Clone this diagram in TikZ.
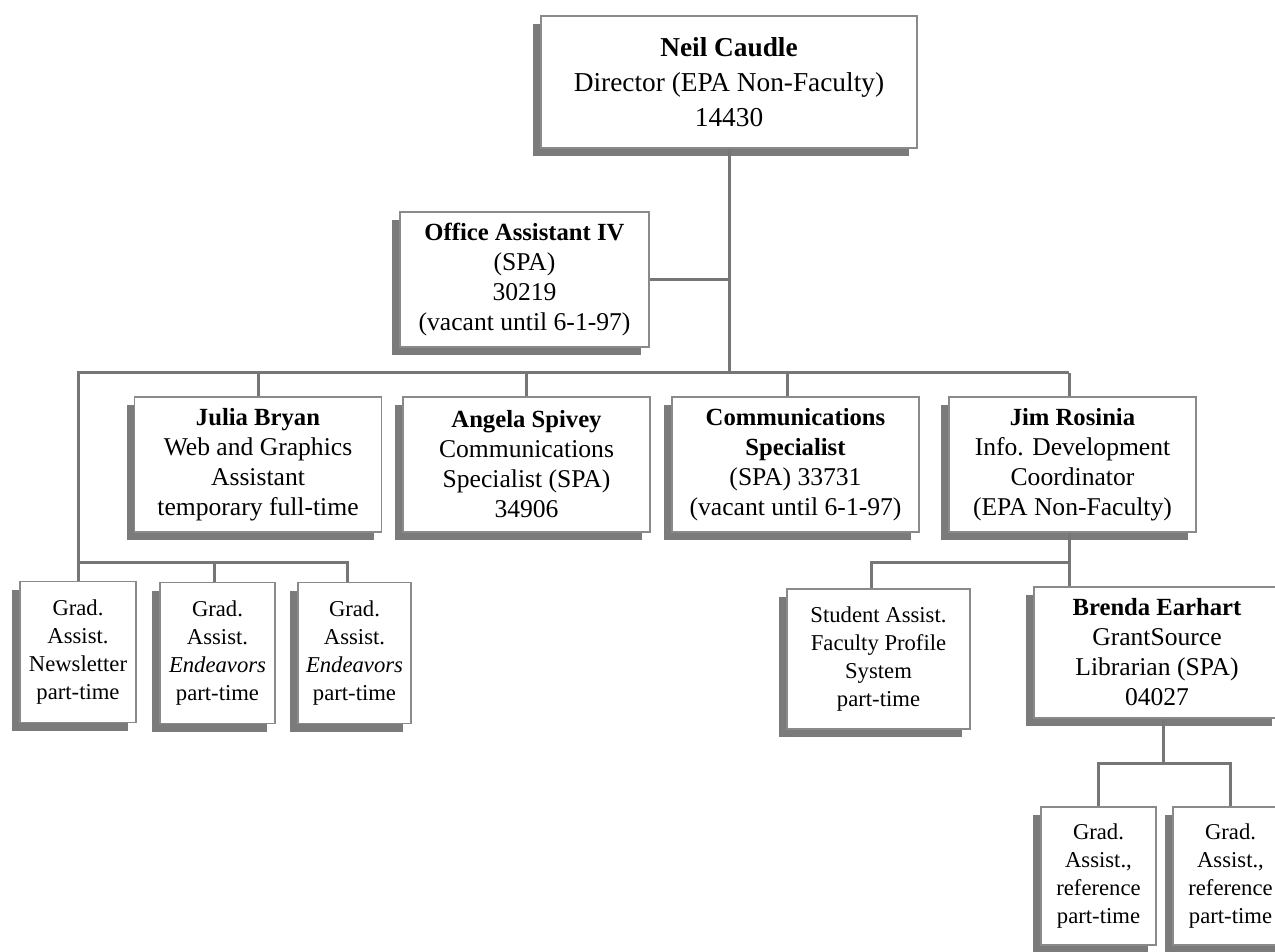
\documentclass[tikz,border=0pt]{standalone}
\usepackage{fontspec}
\setmainfont{Liberation Serif}
\usetikzlibrary{shadows}
\definecolor{linec}{HTML}{767676}
\definecolor{shadc}{HTML}{7B7B7B}
\definecolor{bordc}{HTML}{8A8A8A}
\newcommand{\nm}[1]{{\fontsize{18.5}{22.5}\selectfont\bfseries #1}}
\tikzset{
  box/.style={draw=bordc, line width=1.2pt, fill=white, rectangle, align=center, inner sep=0pt,
    drop shadow={shadow xshift=-6pt, shadow yshift=-6pt, fill=shadc, opacity=1}},
  conn/.style={draw=linec, line width=2.25pt},
  topfont/.style={font=\fontsize{20.5}{26}\selectfont},
  midfont/.style={font=\fontsize{19.2}{22.5}\selectfont},
  smallfont/.style={font=\fontsize{17}{21}\selectfont},
  midbox/.style={box, midfont, minimum width=185.25pt, minimum height=101.25pt},
  gradbox/.style={box, smallfont, minimum width=87pt, minimum height=105.75pt},
  refbox/.style={box, smallfont, minimum width=86.25pt, minimum height=103.5pt},
}
\begin{document}
\begin{tikzpicture}[x=0.75pt,y=-0.75pt]
\useasboundingbox (0,0) rectangle (1275,952);

\node[box, topfont, minimum width=282pt, minimum height=99pt] (neil) at (729,82)
  {\textbf{Neil Caudle}\\Director (EPA Non-Faculty)\\14430};
\node[box, midfont, minimum width=186.75pt, minimum height=101.25pt] (office) at (524.5,279.5)
  {\nm{Office Assistant IV}\\(SPA)\\30219\\(vacant until 6-1-97)};

\node[midbox] (julia) at (258,464.5)
  {\nm{Julia Bryan}\\Web and Graphics\\Assistant\\temporary full-time};
\node[midbox] (angela) at (526.5,464.5)
  {\nm{Angela Spivey}\\Communications\\Specialist (SPA)\\34906};
\node[midbox] (comm) at (795.5,464.5)
  {\nm{Communications}\\\nm{Specialist}\\(SPA) 33731\\(vacant until 6-1-97)};
\node[midbox] (jim) at (1072.5,464.5)
  {\nm{Jim Rosinia}\\Info. Development\\Coordinator\\(EPA Non-Faculty)};

\node[gradbox] (g1) at (78,652)
  {Grad.\\Assist.\\Newsletter\\part-time};
\node[gradbox, minimum width=86.25pt] (g2) at (217.5,653)
  {Grad.\\Assist.\\\textit{Endeavors}\\part-time};
\node[gradbox, minimum width=84.75pt] (g3) at (354.5,653)
  {Grad.\\Assist.\\\textit{Endeavors}\\part-time};

\node[box, smallfont, minimum width=137.25pt, minimum height=105pt] (student) at (878.5,659)
  {Student Assist.\\Faculty Profile\\System\\part-time};
\node[box, midfont, minimum width=184.5pt, minimum height=98.25pt] (brenda) at (1157,652.5)
  {\nm{Brenda Earhart}\\GrantSource\\Librarian (SPA)\\04027};

\node[refbox] (r1) at (1098.5,876)
  {Grad.\\Assist.,\\reference\\part-time};
\node[refbox] (r2) at (1230.5,876)
  {Grad.\\Assist.,\\reference\\part-time};

\coordinate (busA) at (0,373);
\coordinate (busB) at (0,562);
\coordinate (busC) at (0,763);
% attachment points of the connectors on the boxes
\coordinate (commtop) at ([xshift=-6pt]comm.north);
\coordinate (jimtop) at ([xshift=-2.6pt]jim.north);
\coordinate (jimbot) at ([xshift=-2.6pt]jim.south);
\coordinate (g2top) at ([xshift=-1.9pt]g2.north);
\coordinate (g3top) at ([xshift=-4.9pt]g3.north);
\coordinate (studtop) at ([xshift=-5.6pt]student.north);
\coordinate (brendabot) at ([xshift=5.2pt]brenda.south);

% director to main bus
\draw[conn] (neil.south) -- (neil.south |- busA);
\draw[conn] (office.east) -- (office.east -| neil.south);
% main bus
\draw[conn] (g1.north) -- (g1.north |- busA) -- (jimtop |- busA);
\draw[conn] (julia.north) -- (julia.north |- busA);
\draw[conn] (angela.north) -- (angela.north |- busA);
\draw[conn] (commtop) -- (commtop |- busA);
\draw[conn] (jimtop) -- (jimtop |- busA);
% grad assistants
\draw[conn] (g1.north |- busB) -- (g3top |- busB) -- (g3top);
\draw[conn] (g2top) -- (g2top |- busB);
% Jim's reports
\draw[conn] (jimbot) -- (jimbot |- brenda.north);
\draw[conn] (jimbot |- busB) -| (studtop);
% Brenda's reports
\draw[conn] (brendabot) -- (brendabot |- busC);
\draw[conn] (r1.north) |- (busC -| brendabot) -| (r2.north);
\end{tikzpicture}
\end{document}
